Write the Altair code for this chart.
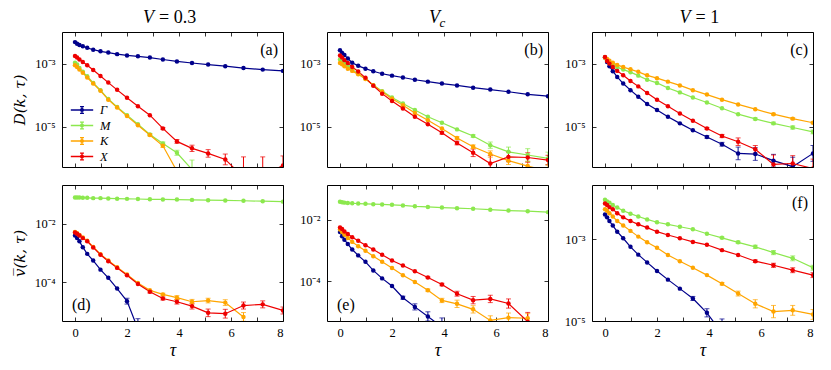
import altair as alt
import pandas as pd

N = None
TAU = [0, 0.08, 0.17, 0.3, 0.47, 0.7, 0.98, 1.28, 1.62, 2.0,
       2.42, 2.88, 3.38, 3.92, 4.5, 5.12, 5.78, 6.48, 7.22, 8.0]
SERIES = ["Γ", "M", "K", "X"]
COLORS = ["#00008b", "#8ce84e", "#ffa500", "#ee0000"]
FONT = "'Liberation Serif', 'Times New Roman', serif"

# ---- values as log10 ----
# (a) V = 0.3, D(k,tau)
A_G = [-2.32, -2.37, -2.41, -2.45, -2.50, -2.56, -2.61, -2.65, -2.70, -2.74, -2.77, -2.81, -2.87, -2.93, -2.98, -3.03, -3.08, -3.14, -3.19, -3.23]
A_M = [-2.97, -3.03, -3.14, -3.26, -3.40, -3.61, -3.84, -4.12, -4.37, -4.63, -4.92, -5.24, -5.53, -5.82, -6.35, N, N, N, N, N]
A_K = [-3.05, -3.11, -3.19, -3.29, -3.44, -3.63, -3.86, -4.14, -4.39, -4.66, -4.95, -5.26, -5.60, -6.40, N, N, N, N, N, N]
A_X = [-2.76, -2.81, -2.87, -2.95, -3.05, -3.20, -3.39, -3.60, -3.83, -4.08, -4.35, -4.63, -5.05, -5.46, -5.68, -5.84, -6.03, -6.60, -6.55, -6.22]
A_G_E = [0] * 20
A_M_E = [0] * 11 + [0.03, 0.05, 0.08, 0.3, 0, 0, 0, 0, 0]
A_K_E = [0] * 11 + [0.03, 0.05, 0, 0, 0, 0, 0, 0, 0]
A_X_E = [0] * 12 + [0.03, 0.06, 0.1, 0.12, 0.17, 0.65, 0.6, 0.3]

# (b) V_c, D(k,tau)
B_G = [-2.58, -2.66, -2.73, -2.84, -2.97, -3.07, -3.16, -3.24, -3.32, -3.38, -3.44, -3.51, -3.57, -3.63, -3.69, -3.76, -3.82, -3.89, -3.97, -4.03]
B_M = [-2.87, -2.93, -3.00, -3.08, -3.19, -3.32, -3.48, -3.68, -3.87, -4.07, -4.26, -4.47, -4.68, -4.87, -5.08, -5.29, -5.58, -5.79, -5.89, -6.00]
B_K = [-2.98, -3.02, -3.08, -3.16, -3.23, -3.34, -3.49, -3.68, -3.89, -4.11, -4.32, -4.56, -4.79, -5.05, -5.35, -5.63, -5.86, -6.07, -6.24, -6.40]
B_X = [-2.74, -2.81, -2.89, -2.98, -3.11, -3.25, -3.45, -3.70, -3.95, -4.18, -4.42, -4.68, -4.92, -5.19, -5.51, -5.82, -6.16, -5.95, -5.97, -6.05]
B_G_E = [0] * 20
B_M_E = [0] * 15 + [0.04, 0.1, 0.15, 0.2, 0.2]
B_K_E = [0] * 14 + [0.04, 0.06, 0.1, 0.12, 0.15, 0.2]
B_X_E = [0] * 13 + [0.04, 0.06, 0.12, 0.25, 0.15, 0.15, 0.15]

# (c) V = 1, D(k,tau)
C_G = [-2.81, -2.95, -3.08, -3.24, -3.42, -3.63, -3.84, -4.05, -4.28, -4.47, -4.68, -4.89, -5.11, -5.32, -5.55, -5.84, -5.86, -6.07, -6.26, -5.84]
C_M = [-2.81, -2.89, -2.98, -3.04, -3.11, -3.19, -3.27, -3.38, -3.51, -3.61, -3.77, -3.91, -4.07, -4.23, -4.41, -4.60, -4.75, -4.89, -5.02, -5.16]
C_K = [-2.81, -2.85, -2.91, -2.97, -3.04, -3.11, -3.18, -3.26, -3.37, -3.46, -3.57, -3.69, -3.84, -3.98, -4.14, -4.29, -4.44, -4.60, -4.74, -4.87]
C_X = [-2.79, -2.92, -3.00, -3.11, -3.23, -3.37, -3.55, -3.72, -3.93, -4.14, -4.35, -4.58, -4.81, -5.05, -5.29, -5.47, -5.71, -6.19, -6.16, -6.32]
C_G_E = [0] * 13 + [0.04, 0.06, 0.2, 0.2, 0.2, 0.3, 0.25]
C_M_E = [0] * 16 + [0.03, 0.04, 0.05, 0.06]
C_K_E = [0] * 17 + [0.03, 0.03, 0.03]
C_X_E = [0] * 13 + [0.03, 0.05, 0.12, 0.12, 0.3, 0.25, 0.3]

# (d) V = 0.3, vbar(k,tau)
D_G = [-2.40, -2.49, -2.60, -2.80, -3.03, -3.26, -3.57, -3.85, -4.22, -4.65, -5.60, N, N, N, N, N, N, N, N, N]
D_M = [-1.10, -1.10, -1.10, -1.11, -1.11, -1.12, -1.12, -1.13, -1.14, -1.145, -1.15, -1.16, -1.165, -1.17, -1.18, -1.19, -1.20, -1.21, -1.225, -1.24]
D_K = [-2.28, -2.32, -2.38, -2.47, -2.58, -2.79, -3.04, -3.26, -3.49, -3.74, -4.03, -4.28, -4.42, -4.53, -4.67, -4.63, -4.70, -5.19, N, N]
D_X = [-2.30, -2.34, -2.40, -2.49, -2.60, -2.81, -3.06, -3.28, -3.51, -3.76, -4.06, -4.33, -4.56, -4.67, -4.82, -5.05, -5.08, -4.80, -4.76, -4.97]
D_G_E = [0] * 9 + [0.1, 0.35, 0, 0, 0, 0, 0, 0, 0, 0, 0]
D_M_E = [0] * 20
D_K_E = [0] * 12 + [0.04, 0.07, 0.08, 0.08, 0.1, 0.15, 0, 0]
D_X_E = [0] * 11 + [0.04, 0.05, 0.08, 0.1, 0.13, 0.15, 0.12, 0.12, 0.12]

# (e) V_c, vbar(k,tau)
E_G = [-2.40, -2.54, -2.65, -2.79, -2.97, -3.16, -3.37, -3.65, -3.91, -4.16, -4.54, -4.84, -5.15, -5.50, N, N, N, N, N, N]
E_M = [-1.41, -1.43, -1.44, -1.45, -1.46, -1.47, -1.48, -1.49, -1.50, -1.51, -1.53, -1.56, -1.58, -1.60, -1.62, -1.64, -1.67, -1.70, -1.72, -1.75]
E_K = [-2.32, -2.40, -2.49, -2.59, -2.72, -2.86, -3.01, -3.19, -3.37, -3.57, -3.81, -4.03, -4.30, -4.63, -4.74, -4.92, -5.28, -5.19, -5.21, N]
E_X = [-2.25, -2.30, -2.38, -2.46, -2.57, -2.68, -2.83, -2.97, -3.14, -3.33, -3.49, -3.68, -3.88, -4.11, -4.41, -4.62, -4.58, -4.73, -5.32, N]
E_G_E = [0] * 10 + [0.05, 0.1, 0.15, 0.3, 0, 0, 0, 0, 0, 0]
E_M_E = [0] * 20
E_K_E = [0] * 12 + [0.04, 0.07, 0.12, 0.12, 0.15, 0.15, 0.15, 0]
E_X_E = [0] * 12 + [0.02, 0.04, 0.08, 0.12, 0.12, 0.15, 0.3, 0]

# (f) V = 1, vbar(k,tau)
F_G = [-2.40, -2.47, -2.56, -2.67, -2.82, -2.98, -3.19, -3.38, -3.57, -3.78, -3.99, -4.21, -4.45, -4.80, -5.30, N, N, N, N, N]
F_M = [-2.04, -2.08, -2.11, -2.17, -2.23, -2.31, -2.38, -2.45, -2.52, -2.59, -2.64, -2.70, -2.76, -2.87, -2.97, -3.08, -3.19, -3.33, -3.47, -3.70]
F_K = [-2.27, -2.31, -2.37, -2.45, -2.56, -2.67, -2.80, -2.94, -3.08, -3.21, -3.39, -3.54, -3.70, -3.88, -4.09, -4.33, -4.58, -4.77, -4.74, -4.84]
F_X = [-2.13, -2.17, -2.22, -2.27, -2.37, -2.47, -2.56, -2.64, -2.72, -2.82, -2.90, -2.98, -3.07, -3.14, -3.27, -3.39, -3.54, -3.64, -3.76, -3.88]
F_G_E = [0] * 12 + [0.05, 0.1, 0.35, 0, 0, 0, 0, 0]
F_M_E = [0] * 14 + [0.02, 0.03, 0.04, 0.05, 0.06, 0.06]
F_K_E = [0] * 14 + [0.03, 0.06, 0.1, 0.15, 0.12, 0.12]
F_X_E = [0] * 16 + [0.03, 0.05, 0.06, 0.06]

# y-axis ranges (log10) and tick values
TOP_DOM = [-6.27, -2.0]
D_DOM = [-5.33, -0.67]
E_DOM = [-5.30, -0.865]
F_DOM = [-5.0, -1.68]
TOP_TICKS = [1e-3, 1e-5]
D_TICKS = [1e-2, 1e-4]
F_TICKS = [1e-3, 1e-5]

W = 221
SUP = ("'10' + replace(replace(replace(replace(replace(replace(replace("
       "toString(round(log(datum.value)/LN10)),'-','⁻'),'1','¹'),'2','²'),"
       "'3','³'),'4','⁴'),'5','⁵'),'6','⁶')")

LEGEND_PATH = ("M-1.6,0H1.6M0,-0.47V0.47M-0.28,-0.47H0.28M-0.28,0.47H0.28"
               "M-0.2,0A0.2,0.2,0,1,0,0.2,0A0.2,0.2,0,1,0,-0.2,0Z")


def mk_df(vals, errs):
    rows = []
    for si, (s, arr, err) in enumerate(zip(SERIES, vals, errs)):
        for t, l, e in zip(TAU, arr, err):
            if l is None:
                rows.append(dict(tau=t, s=s, k=si, v=None, lo=None, hi=None, e=0.0))
            else:
                rows.append(dict(tau=t, s=s, k=si, v=10 ** l, lo=10 ** (l - e),
                                 hi=10 ** (l + e), e=float(e)))
    return pd.DataFrame(rows)


def panel(vals, errs, ydom, yticks, label, label_top, row, col, ytitle=None,
          title_parts=None, legend=False):
    df = mk_df(vals, errs)
    H = 135 if row == 0 else 136
    xs = alt.Scale(domain=[-0.5, 8], nice=False, zero=False)
    ys = alt.Scale(type="log", domain=[10 ** ydom[0], 10 ** ydom[1]], nice=False)
    common = dict(tickSize=4, offset=-4, domain=False, grid=False,
                  tickColor="black", tickWidth=0.8, labelFont=FONT,
                  labelFontSize=12.5, labelColor="black")
    xb_kw = dict(orient="bottom", values=list(range(9)), labelPadding=5, **common)
    if row == 1:
        xb_kw.update(labelExpr="datum.value % 2 === 0 ? datum.label : ''",
                     title="τ", titleFont=FONT, titleFontSize=18,
                     titleFontStyle="italic", titleFontWeight="normal",
                     titlePadding=3, titleColor="black")
    else:
        xb_kw.update(labels=False, title=None)
    x_bottom = alt.Axis(**xb_kw)
    x_top = alt.Axis(orient="top", values=list(range(9)), labels=False, title=None, **common)
    yl_kw = dict(orient="left", values=yticks, labelExpr=SUP, labelPadding=7, **common)
    if ytitle:
        yl_kw.update(title=ytitle, titleFont="DejaVu Serif", titleFontSize=15,
                     titleFontStyle="italic", titleFontWeight="normal",
                     titlePadding=7, titleColor="black")
    else:
        yl_kw.update(title=None)
    y_left = alt.Axis(**yl_kw)
    y_right = alt.Axis(orient="right", values=yticks, labels=False, title=None, **common)

    cscale = alt.Scale(domain=SERIES, range=COLORS)
    base = alt.Chart(df)

    if legend:
        leg = alt.Legend(orient="none", legendX=12, legendY=70, title=None,
                         symbolType=LEGEND_PATH, symbolSize=196,
                         symbolStrokeWidth=1.3, labelFont=FONT, labelFontSize=12.5,
                         labelFontStyle="italic", labelOffset=10, rowPadding=0.5,
                         labelColor="black")
        lcolor = alt.Color("s:N", scale=cscale, legend=leg)
    else:
        lcolor = alt.Color("s:N", scale=cscale, legend=None)

    line = base.mark_line(clip=True, strokeWidth=1.2).encode(
        x=alt.X("tau:Q", scale=xs, axis=x_bottom),
        y=alt.Y("v:Q", scale=ys, axis=y_left),
        color=lcolor,
        detail="k:O",
    )
    eb = base.transform_filter("datum.e > 0")
    ecolor = alt.Color("s:N", scale=cscale, legend=None)
    bars = eb.mark_rule(clip=True, strokeWidth=1).encode(
        x=alt.X("tau:Q", scale=xs, axis=None),
        y=alt.Y("lo:Q", scale=ys, axis=None),
        y2="hi:Q",
        color=ecolor,
    )
    cap_hi = eb.mark_tick(clip=True, orient="horizontal", size=5, thickness=1).encode(
        x=alt.X("tau:Q", scale=xs, axis=None),
        y=alt.Y("hi:Q", scale=ys, axis=None),
        color=ecolor,
    )
    cap_lo = eb.mark_tick(clip=True, orient="horizontal", size=5, thickness=1).encode(
        x=alt.X("tau:Q", scale=xs, axis=None),
        y=alt.Y("lo:Q", scale=ys, axis=None),
        color=ecolor,
    )
    pts = base.transform_filter("isValid(datum.v)").mark_circle(
        clip=True, size=20, opacity=1).encode(
        x=alt.X("tau:Q", scale=xs, axis=x_top),
        y=alt.Y("v:Q", scale=ys, axis=y_right),
        color=ecolor,
    )
    if label_top:
        txt = alt.Chart(pd.DataFrame({"t": [label]})).mark_text(
            font=FONT, fontSize=16, align="right", baseline="middle", color="black"
        ).encode(text="t:N", x=alt.value(W - 5), y=alt.value(18))
    else:
        txt = alt.Chart(pd.DataFrame({"t": [label]})).mark_text(
            font=FONT, fontSize=16, align="left", baseline="middle", color="black"
        ).encode(text="t:N", x=alt.value(10), y=alt.value(H - 16))
    layers = [line, bars, cap_hi, cap_lo, pts, txt]
    if title_parts:
        for (t, xpos, ypos, fs, style, align) in title_parts:
            layers.append(alt.Chart(pd.DataFrame({"t": [t]})).mark_text(
                font=FONT, fontSize=fs, fontStyle=style, align=align,
                baseline="alphabetic", color="black").encode(
                text="t:N", x=alt.value(xpos), y=alt.value(ypos)))
    ch = alt.layer(*layers).resolve_axis(x="independent", y="independent")
    ch = ch.properties(width=W, height=H)
    return ch


T0 = [("V", 92, -9, 18, "italic", "right"), ("= 0.3", 97, -9, 18, "normal", "left")]
T1 = [("V", 113, -9, 18, "italic", "right"), ("c", 112.5, -5.5, 13, "italic", "left")]
T2 = [("V", 98.5, -9, 18, "italic", "right"), ("= 1", 103.5, -9, 18, "normal", "left")]

pa = panel([A_G, A_M, A_K, A_X], [A_G_E, A_M_E, A_K_E, A_X_E], TOP_DOM, TOP_TICKS,
           "(a)", True, 0, 0, ytitle="D(k, τ)", title_parts=T0, legend=True)
pb = panel([B_G, B_M, B_K, B_X], [B_G_E, B_M_E, B_K_E, B_X_E], TOP_DOM, TOP_TICKS,
           "(b)", True, 0, 1, title_parts=T1)
pc = panel([C_G, C_M, C_K, C_X], [C_G_E, C_M_E, C_K_E, C_X_E], TOP_DOM, TOP_TICKS,
           "(c)", True, 0, 2, title_parts=T2)
pd_ = panel([D_G, D_M, D_K, D_X], [D_G_E, D_M_E, D_K_E, D_X_E], D_DOM, D_TICKS,
            "(d)", False, 1, 0, ytitle="v\u0305(k, τ)")
pe = panel([E_G, E_M, E_K, E_X], [E_G_E, E_M_E, E_K_E, E_X_E], E_DOM, D_TICKS,
           "(e)", False, 1, 1)
pf = panel([F_G, F_M, F_K, F_X], [F_G_E, F_M_E, F_K_E, F_X_E], F_DOM, F_TICKS,
           "(f)", True, 1, 2)

chart = alt.concat(pa, pb, pc, pd_, pe, pf, columns=3,
                   spacing={"row": 18, "column": 44}, bounds="flush")
chart = chart.resolve_scale(color="independent").resolve_legend(color="independent")
chart = chart.properties(
    padding={"left": 3, "top": 0, "right": 5, "bottom": 5},
    background="white",
).configure_view(stroke="black", strokeWidth=1)

chart.save("out.html", embed_options={"renderer": "svg", "actions": False})
